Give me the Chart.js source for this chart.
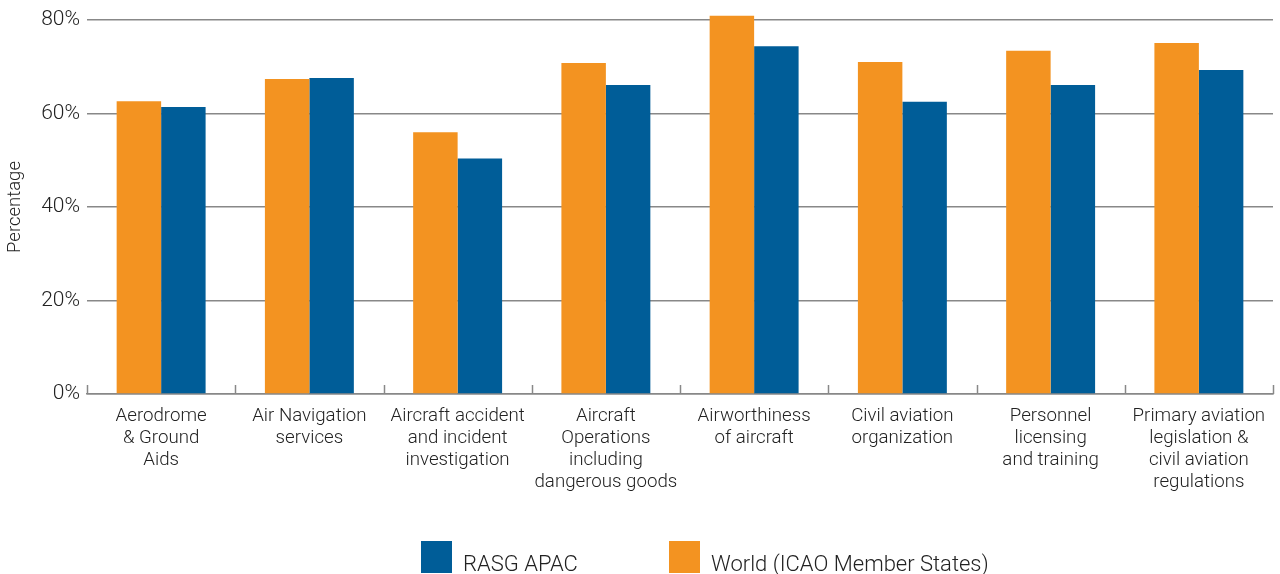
<!DOCTYPE html>
<html>
<head>
<meta charset="utf-8">
<script src="https://cdn.jsdelivr.net/npm/chart.js@4/dist/chart.umd.min.js"></script>
<style>
  html, body { margin: 0; padding: 0; background: #fff; }
  #wrap { position: relative; width: 1280px; height: 574px; }
  #legend {
    position: absolute; left: 421px; top: 541px;
    display: flex; align-items: center;
    font-family: Roboto, "Liberation Sans", Arial, sans-serif; font-weight: 300;
    font-size: 22px; color: #222;
  }
  #legend .item { display: flex; align-items: flex-end; }
  #legend .item + .item { position: absolute; left: 248px; top: 0; }
  #legend .box { width: 31px; height: 32px; margin-right: 11px; flex: none; }
  #legend .item span { line-height: 22px; margin-bottom: -2px; white-space: nowrap; }
</style>
</head>
<body>
<div id="wrap">
  <canvas id="chart" width="1280" height="574"></canvas>
  <div id="legend"></div>
</div>
<script>
const categories = [
  ['Aerodrome', '& Ground', 'Aids'],
  ['Air Navigation', 'services'],
  ['Aircraft accident', 'and incident', 'investigation'],
  ['Aircraft', 'Operations', 'including', 'dangerous goods'],
  ['Airworthiness', 'of aircraft'],
  ['Civil aviation', 'organization'],
  ['Personnel', 'licensing', 'and training'],
  ['Primary aviation', 'legislation &', 'civil aviation', 'regulations']
];
const worldValues = [62.6, 67.4, 56.0, 70.8, 80.9, 71.0, 73.4, 75.1];
const apacValues = [61.4, 67.6, 50.4, 66.1, 74.4, 62.5, 66.1, 69.3];
const yTicks = [0, 20, 40, 60, 80];

const ORANGE = '#F39321';
const BLUE = '#005D98';
const FONT = 'Roboto, "Liberation Sans", Arial, sans-serif';

// short upward ticks on the x axis between the category groups
const groupTicks = {
  id: 'groupTicks',
  afterDraw(c) {
    const x = c.scales.x, ctx = c.ctx, bottom = c.chartArea.bottom;
    ctx.save();
    ctx.strokeStyle = '#888';
    ctx.lineWidth = 1.5;
    for (let i = 0; i <= categories.length; i++) {
      const px = Math.round(x.getPixelForValue(i - 0.5)) + 0.5;
      ctx.beginPath();
      ctx.moveTo(px, bottom);
      ctx.lineTo(px, bottom - 9);
      ctx.stroke();
    }
    ctx.restore();
  }
};

const chart = new Chart(document.getElementById('chart'), {
  type: 'bar',
  data: {
    labels: categories,
    datasets: [
      { label: 'World (ICAO Member States)', data: worldValues, backgroundColor: ORANGE, clip: false },
      { label: 'RASG APAC', data: apacValues, backgroundColor: BLUE, clip: false }
    ]
  },
  options: {
    responsive: false,
    animation: false,
    layout: { padding: { top: 20, right: 7, bottom: 0, left: 0 } },
    datasets: { bar: { categoryPercentage: 0.6, barPercentage: 1.0 } },
    plugins: {
      legend: { display: false },
      tooltip: { enabled: false }
    },
    scales: {
      x: {
        grid: { display: false },
        border: { display: true, color: '#888', width: 1.5 },
        ticks: {
          color: '#222', padding: 3, maxRotation: 0, autoSkip: false,
          font: { family: FONT, size: 18.7, weight: 300, lineHeight: 1.18 }
        },
        afterFit(s) { s.height = 180; }
      },
      y: {
        min: 0, max: 80,
        afterBuildTicks(s) { s.ticks = yTicks.map(v => ({ value: v })); },
        grid: { color: '#888', lineWidth: 1.5, drawTicks: false },
        border: { display: false },
        ticks: {
          color: '#222', padding: 7,
          font: { family: FONT, size: 21, weight: 300 },
          callback: v => v + '%'
        },
        title: {
          display: true, text: 'Percentage', color: '#222', padding: { top: 4, bottom: 0 },
          font: { family: FONT, size: 18.5, weight: 300 }
        },
        afterFit(s) { s.width = 87; }
      }
    }
  },
  plugins: [groupTicks]
});

// legend below the plot, APAC first
const legend = document.getElementById('legend');
[chart.data.datasets[1], chart.data.datasets[0]].forEach(ds => {
  const item = document.createElement('div');
  item.className = 'item';
  const box = document.createElement('div');
  box.className = 'box';
  box.style.background = ds.backgroundColor;
  const txt = document.createElement('span');
  txt.textContent = ds.label;
  item.appendChild(box);
  item.appendChild(txt);
  legend.appendChild(item);
});
</script>
</body>
</html>
